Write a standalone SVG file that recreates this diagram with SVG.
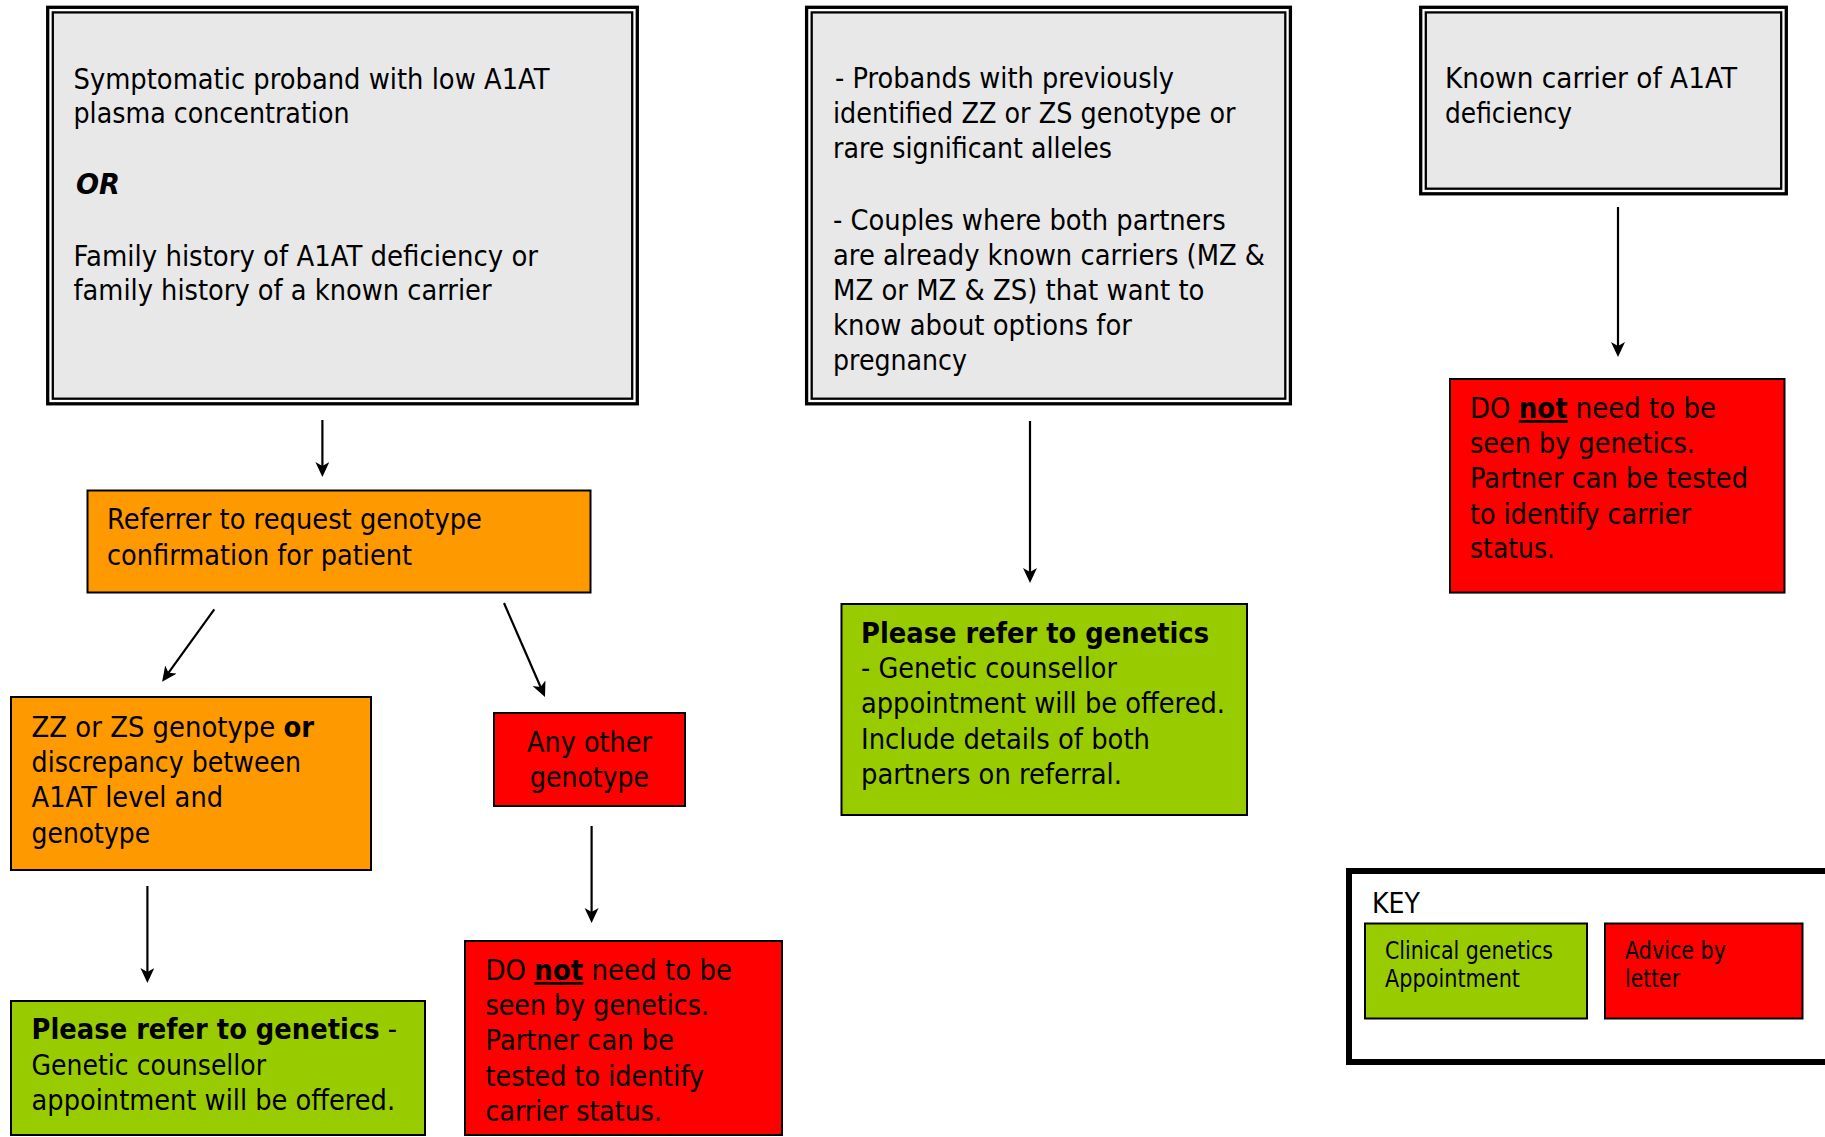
<svg xmlns="http://www.w3.org/2000/svg" width="1825" height="1137" viewBox="0 0 1825 1137">
<style>
text{font-family:"DejaVu Sans","Liberation Sans",sans-serif;font-size:28.5px;fill:#000}
.b{font-weight:bold}
.bi{font-weight:bold;font-style:italic}
.u{text-decoration:underline}
.k{font-size:25px}
.ko{fill:none;stroke:#000;stroke-width:3.3}
.ki{fill:#E8E8E8;stroke:#000;stroke-width:2.3}
.or{fill:#FF9900;stroke:#000;stroke-width:2}
.gr{fill:#99CC00;stroke:#000;stroke-width:2}
.rd{fill:#FF0000;stroke:#000;stroke-width:2}
.c{fill:none;stroke:#000;stroke-width:2.2;marker-end:url(#ah)}
</style>
<defs>
<marker id="ah" markerUnits="userSpaceOnUse" markerWidth="18" markerHeight="18" refX="7" refY="7" orient="auto">
<path d="M0,0 L15,7 L0,14 L4,7 z" fill="#000"/>
</marker>
</defs>
<rect x="0" y="0" width="1825" height="1137" fill="#fff"/>

<g id="connectors">
<path class="c" d="M322.4,420 L322.4,469"/>
<path class="c" d="M214.3,609.3 L166.8,675.2"/>
<path class="c" d="M504,603 L541.8,689.7"/>
<path class="c" d="M147.4,886 L147.4,975"/>
<path class="c" d="M591.6,826 L591.6,915"/>
<path class="c" d="M1030,421 L1030,575"/>
<path class="c" d="M1618,207 L1618,349"/>
</g>

<g id="n-symptomatic">
<rect class="ko" x="47.7" y="7.3" width="589.6" height="396.5"/>
<rect class="ki" x="52.8" y="12.4" width="579.4" height="386.3"/>
<text x="73.5" y="89" textLength="476" lengthAdjust="spacingAndGlyphs">Symptomatic proband with low A1AT</text>
<text x="73.5" y="123" textLength="276" lengthAdjust="spacingAndGlyphs">plasma concentration</text>
<text class="bi" x="76" y="194" textLength="44" lengthAdjust="spacingAndGlyphs">OR</text>
<text x="73.5" y="266" textLength="464.5" lengthAdjust="spacingAndGlyphs">Family history of A1AT deficiency or</text>
<text x="73.5" y="300" textLength="418" lengthAdjust="spacingAndGlyphs">family history of a known carrier</text>
</g>

<g id="n-probands">
<rect class="ko" x="806.6" y="7.3" width="483.8" height="396.5"/>
<rect class="ki" x="811.7" y="12.4" width="473.6" height="386.3"/>
<text x="835" y="88" textLength="339" lengthAdjust="spacingAndGlyphs">- Probands with previously</text>
<text x="833" y="123" textLength="402.5" lengthAdjust="spacingAndGlyphs">identified ZZ or ZS genotype or</text>
<text x="833" y="158" textLength="279" lengthAdjust="spacingAndGlyphs">rare significant alleles</text>
<text x="833" y="230" textLength="392.6" lengthAdjust="spacingAndGlyphs">- Couples where both partners</text>
<text x="833" y="265" textLength="432" lengthAdjust="spacingAndGlyphs">are already known carriers (MZ &amp;</text>
<text x="833" y="300" textLength="371.5" lengthAdjust="spacingAndGlyphs">MZ or MZ &amp; ZS) that want to</text>
<text x="833" y="335" textLength="299" lengthAdjust="spacingAndGlyphs">know about options for</text>
<text x="833" y="370" textLength="134" lengthAdjust="spacingAndGlyphs">pregnancy</text>
</g>

<g id="n-known-carrier">
<rect class="ko" x="1420.7" y="7.3" width="365.6" height="186.5"/>
<rect class="ki" x="1425.8" y="12.4" width="355.4" height="176.3"/>
<text x="1445" y="88" textLength="292" lengthAdjust="spacingAndGlyphs">Known carrier of A1AT</text>
<text x="1445" y="123" textLength="127" lengthAdjust="spacingAndGlyphs">deficiency</text>
</g>

<g id="n-referrer">
<rect class="or" x="87.5" y="490.5" width="503" height="102"/>
<text x="107" y="529" textLength="375" lengthAdjust="spacingAndGlyphs">Referrer to request genotype</text>
<text x="107" y="565" textLength="305" lengthAdjust="spacingAndGlyphs">confirmation for patient</text>
</g>

<g id="n-zz">
<rect class="or" x="11" y="697" width="360" height="173"/>
<text x="31.6" y="737" textLength="282.5" lengthAdjust="spacingAndGlyphs">ZZ or ZS genotype <tspan class="b">or</tspan></text>
<text x="31.6" y="772" textLength="269.5" lengthAdjust="spacingAndGlyphs">discrepancy between</text>
<text x="31.6" y="807" textLength="191.5" lengthAdjust="spacingAndGlyphs">A1AT level and</text>
<text x="31.6" y="843" textLength="118.5" lengthAdjust="spacingAndGlyphs">genotype</text>
</g>

<g id="n-any-other">
<rect class="rd" x="494" y="713" width="191" height="93"/>
<text x="527" y="752" textLength="125" lengthAdjust="spacingAndGlyphs">Any other</text>
<text x="530" y="787" textLength="119" lengthAdjust="spacingAndGlyphs">genotype</text>
</g>

<g id="n-refer-1">
<rect class="gr" x="11" y="1001" width="414" height="134"/>
<text x="31.6" y="1039" textLength="365.5" lengthAdjust="spacingAndGlyphs"><tspan class="b">Please refer to genetics</tspan> -</text>
<text x="31.6" y="1075" textLength="234.5" lengthAdjust="spacingAndGlyphs">Genetic counsellor</text>
<text x="31.6" y="1110" textLength="363.5" lengthAdjust="spacingAndGlyphs">appointment will be offered.</text>
</g>

<g id="n-donot-1">
<rect class="rd" x="465" y="941" width="317" height="194"/>
<text x="485.5" y="980" textLength="246.5" lengthAdjust="spacingAndGlyphs">DO <tspan class="b u">not</tspan> need to be</text>
<text x="485.5" y="1015" textLength="223.5" lengthAdjust="spacingAndGlyphs">seen by genetics.</text>
<text x="485.5" y="1050" textLength="188.5" lengthAdjust="spacingAndGlyphs">Partner can be</text>
<text x="485.5" y="1086" textLength="218.5" lengthAdjust="spacingAndGlyphs">tested to identify</text>
<text x="485.5" y="1121" textLength="176.5" lengthAdjust="spacingAndGlyphs">carrier status.</text>
</g>

<g id="n-refer-2">
<rect class="gr" x="841.5" y="604" width="405.5" height="211"/>
<text class="b" x="861" y="643" textLength="348" lengthAdjust="spacingAndGlyphs">Please refer to genetics</text>
<text x="861" y="678" textLength="256" lengthAdjust="spacingAndGlyphs">- Genetic counsellor</text>
<text x="861" y="713" textLength="364" lengthAdjust="spacingAndGlyphs">appointment will be offered.</text>
<text x="861" y="749" textLength="289" lengthAdjust="spacingAndGlyphs">Include details of both</text>
<text x="861" y="784" textLength="261" lengthAdjust="spacingAndGlyphs">partners on referral.</text>
</g>

<g id="n-donot-2">
<rect class="rd" x="1450" y="379" width="334.5" height="213.6"/>
<text x="1470" y="418" textLength="246" lengthAdjust="spacingAndGlyphs">DO <tspan class="b u">not</tspan> need to be</text>
<text x="1470" y="453" textLength="225" lengthAdjust="spacingAndGlyphs">seen by genetics.</text>
<text x="1470" y="488" textLength="278" lengthAdjust="spacingAndGlyphs">Partner can be tested</text>
<text x="1470" y="524" textLength="221" lengthAdjust="spacingAndGlyphs">to identify carrier</text>
<text x="1470" y="558" textLength="85" lengthAdjust="spacingAndGlyphs">status.</text>
</g>

<g id="key">
<rect x="1349" y="871" width="600" height="191" fill="#fff" stroke="#000" stroke-width="6"/>
<text x="1372" y="913" textLength="48" lengthAdjust="spacingAndGlyphs">KEY</text>
<rect class="gr" x="1365" y="923.5" width="222" height="95"/>
<text class="k" x="1385" y="959" textLength="168" lengthAdjust="spacingAndGlyphs">Clinical genetics</text>
<text class="k" x="1385" y="987" textLength="135" lengthAdjust="spacingAndGlyphs">Appointment</text>
<rect class="rd" x="1605" y="923.5" width="197.5" height="95"/>
<text class="k" x="1625" y="959" textLength="101" lengthAdjust="spacingAndGlyphs">Advice by</text>
<text class="k" x="1625" y="987" textLength="55" lengthAdjust="spacingAndGlyphs">letter</text>
</g>
</svg>
